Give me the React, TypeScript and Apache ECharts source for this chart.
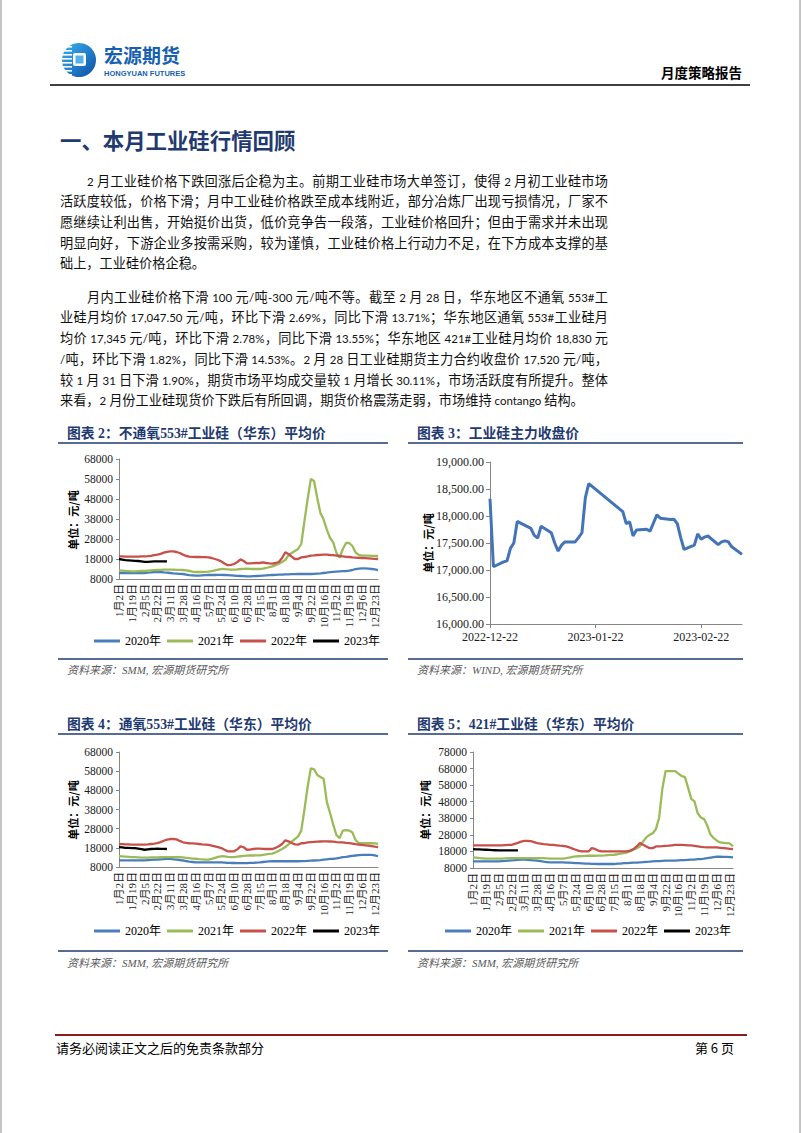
import React, { useEffect, useRef } from 'react';
import * as echarts from 'echarts';

// ---------------- data ----------------
const yearNames = ['2020年', '2021年', '2022年', '2023年'];
const yearColors = ['#4A7EBB', '#9BBB59', '#C8504B', '#000000'];

const dayTickLabels = [
  '1月2日', '1月19日', '2月5日', '2月22日', '3月11日', '3月28日', '4月16日', '5月7日', '5月24日', '6月10日',
  '6月28日', '7月15日', '8月1日', '8月18日', '9月4日', '9月22日', '10月16日', '11月2日', '11月19日', '12月6日', '12月23日',
];
const POINTS_PER_TICK = 4;

// 不通氧553#（华东）
const noOxy2020 = [
  11000, 11000, 10900, 10900, 10900, 11000, 11000, 11000, 11000, 11200, 11300, 11500,
  11500, 11500, 11300, 11200, 11000, 10800, 10700, 10600, 10500, 10200, 9900, 9800,
  9700, 9700, 9800, 9900, 10000, 10000, 10000, 10100, 10100, 10000, 9900, 9800,
  9700, 9600, 9500, 9400, 9300, 9300, 9400, 9500, 9600, 9700, 9800, 9900,
  10000, 10100, 10200, 10200, 10300, 10300, 10400, 10400, 10500, 10500, 10500, 10500,
  10500, 10600, 10700, 10800, 11000, 11200, 11400, 11600, 11700, 11800, 11900, 12000,
  12200, 12500, 12900, 13200, 13300, 13300, 13200, 13000, 12800, 12400,
];
const noOxy2021 = [
  12300, 12200, 12000, 11900, 11800, 11800, 11900, 12000, 12000, 12200, 12300, 12400,
  12500, 12600, 12700, 12700, 12700, 12700, 12600, 12600, 12500, 12300, 12000, 11700,
  11500, 11500, 11500, 11600, 11700, 11900, 12300, 12700, 13000, 12900, 12800, 12700,
  12700, 12800, 13000, 13100, 13200, 13100, 13000, 13000, 13000, 13200, 13500, 13900,
  14300, 14900, 15600, 16500, 17500, 19800, 21000, 22000, 23000, 25500, 37000, 48000,
  58000, 57000, 48500, 41000, 37700, 32700, 28500, 26300, 21000, 18700, 23000, 26000,
  26000, 24500, 21200, 20000, 19700, 19700, 19700, 19600, 19600, 19500,
];
const noOxy2022 = [
  19300, 19300, 19200, 19200, 19200, 19200, 19200, 19300, 19300, 19400, 19600, 19900,
  20200, 20600, 21200, 21600, 21800, 21800, 21500, 21000, 20200, 19500, 19200, 19100,
  19000, 19000, 18900, 18900, 18800, 18500, 18000, 17500, 16800, 15800, 14900, 15100,
  15500, 16500, 17800, 17000, 15800, 15800, 15900, 16000, 16000, 16300, 16000, 15800,
  15700, 16000, 16500, 18500, 21300, 20500, 19200, 18000, 18000, 18800, 19000, 19300,
  19700, 19800, 20000, 20100, 20200, 20200, 20000, 19900, 19700, 19500, 19300, 19100,
  19000, 18800, 18700, 18600, 18500, 18400, 18300, 18200, 18100, 18000,
];
const noOxy2023 = [18000, 17700, 17400, 17300, 17200, 17100, 17000, 16800, 16600, 16600, 16700, 16800, 16800, 16800, 16800, 16800];

// 通氧553#（华东）
const oxy2020 = [
  11500, 11500, 11500, 11500, 11500, 11500, 11500, 11500, 11500, 11600, 11700, 11800,
  11900, 12000, 12100, 12200, 12200, 12000, 11800, 11600, 11400, 11100, 10800, 10600,
  10400, 10400, 10400, 10400, 10400, 10400, 10400, 10400, 10400, 10300, 10200, 10100,
  10100, 10000, 10000, 10000, 10000, 10100, 10200, 10300, 10400, 10600, 10800, 10900,
  11000, 11000, 11000, 11000, 11000, 11000, 11000, 11000, 11000, 11100, 11100, 11200,
  11300, 11400, 11500, 11600, 11800, 12000, 12200, 12300, 12500, 12800, 13100, 13300,
  13600, 13800, 14000, 14200, 14300, 14300, 14300, 14300, 14100, 13600,
];
const oxy2021 = [
  13600, 13500, 13400, 13300, 13200, 13100, 13000, 12900, 12900, 12900, 13000, 13000,
  13000, 13100, 13100, 13200, 13200, 13200, 13100, 13100, 13000, 12800, 12600, 12400,
  12300, 12100, 12000, 11900, 11800, 12200, 12800, 13300, 13600, 13500, 13300, 13200,
  13200, 13400, 13600, 13800, 13900, 14000, 14000, 14100, 14100, 14300, 14600, 14800,
  15000, 15700, 16500, 17400, 18400, 19800, 21200, 22600, 24000, 27000, 38000, 50000,
  59500, 59000, 56000, 55000, 54000, 42000, 36200, 30100, 24600, 23100, 27000, 27200,
  27000, 26000, 22000, 20500, 20500, 20500, 20400, 20400, 20300, 20100,
];
const oxy2022 = [
  20000, 19900, 19800, 19800, 19700, 19700, 19700, 19700, 19700, 19800, 20000, 20200,
  20500, 21000, 21700, 22300, 22600, 22600, 22400, 21600, 20900, 20600, 20400, 20300,
  20200, 20000, 19800, 19700, 19500, 19200, 18800, 18400, 17900, 17000, 16200, 16200,
  16200, 17200, 18800, 18300, 17000, 17100, 17400, 17600, 17600, 17500, 17400, 17400,
  17400, 18000, 18800, 20000, 21900, 21400, 20500, 19800, 19700, 20400, 20500, 20800,
  21000, 21100, 21200, 21300, 21400, 21400, 21300, 21200, 21000, 20900, 20800, 20600,
  20500, 20200, 19900, 19700, 19500, 19300, 19100, 18900, 18600, 18400,
];
const oxy2023 = [18400, 18200, 18000, 18000, 17900, 17800, 17600, 17300, 17000, 17200, 17400, 17500, 17600, 17500, 17500, 17400];

// 421#（华东）
const si421_2020 = [
  12000, 12000, 12000, 12000, 12000, 12000, 12000, 12000, 12000, 12200, 12300, 12500,
  12600, 12700, 12900, 13000, 13000, 12900, 12800, 12600, 12400, 12100, 11800, 11600,
  11400, 11400, 11400, 11400, 11400, 11300, 11200, 11100, 11000, 10900, 10800, 10700,
  10600, 10500, 10500, 10400, 10400, 10400, 10400, 10400, 10400, 10600, 10700, 10900,
  11000, 11100, 11200, 11300, 11400, 11500, 11700, 11800, 12000, 12100, 12200, 12300,
  12400, 12400, 12500, 12500, 12600, 12700, 12800, 12900, 13000, 13100, 13300, 13400,
  13600, 13900, 14200, 14500, 14800, 14800, 14700, 14700, 14600, 14400,
];
const si421_2021 = [
  14400, 14200, 14000, 13800, 13600, 13600, 13600, 13700, 13600, 13700, 13800, 13900,
  13900, 14000, 14000, 14000, 14000, 14000, 14000, 14000, 14000, 14000, 13900, 13800,
  13600, 13600, 13600, 13600, 13600, 13900, 14300, 14700, 15000, 15100, 15200, 15300,
  15400, 15400, 15400, 15500, 15500, 15600, 15800, 15900, 16000, 16300, 16700, 17000,
  17400, 18200, 19000, 20000, 21000, 24000, 26500, 28000, 29000, 31500, 38500, 56000,
  66500, 66500, 66500, 66500, 65000, 63500, 63000, 56500, 49700, 48200, 41000, 38500,
  37500, 33500, 28200, 26000, 24500, 23400, 23200, 23000, 22800, 21000,
];
const si421_2022 = [
  21600, 21600, 21600, 21600, 21600, 21600, 21600, 21600, 21600, 21700, 21800, 21900,
  22000, 22600, 23200, 23900, 24400, 24400, 24200, 23600, 23000, 22700, 22400, 22200,
  22000, 21900, 21700, 21500, 21400, 21100, 20500, 19700, 19000, 18300, 18000, 18000,
  18000, 20000, 19500, 18500, 18000, 18000, 18000, 18000, 18000, 18000, 18000, 18000,
  18000, 18500, 19400, 21000, 23000, 22000, 21000, 20000, 20000, 21000, 21100, 21200,
  21400, 21500, 21700, 21900, 22000, 21900, 21800, 21700, 21600, 21400, 21100, 20800,
  20600, 20500, 20500, 20400, 20400, 20200, 20000, 19800, 19600, 19400,
];
const si421_2023 = [19400, 19300, 19200, 19100, 19000, 18900, 18800, 18700, 18600, 18600, 18600, 18600, 18600, 18600, 18600];

const yTicks68k = [8000, 18000, 28000, 38000, 48000, 58000, 68000];
const yTicks78k = [8000, 18000, 28000, 38000, 48000, 58000, 68000, 78000];

// 工业硅主力收盘价
const futDates = [
  '2022-12-22', '2022-12-23', '2022-12-26', '2022-12-27', '2022-12-28', '2022-12-29', '2022-12-30',
  '2023-01-03', '2023-01-04', '2023-01-05', '2023-01-06', '2023-01-09', '2023-01-10', '2023-01-11',
  '2023-01-12', '2023-01-13', '2023-01-16', '2023-01-17', '2023-01-18', '2023-01-19', '2023-01-20',
  '2023-01-30', '2023-01-31', '2023-02-01', '2023-02-02', '2023-02-03', '2023-02-06', '2023-02-07',
  '2023-02-08', '2023-02-09', '2023-02-10', '2023-02-13', '2023-02-14', '2023-02-15', '2023-02-16',
  '2023-02-17', '2023-02-20', '2023-02-21', '2023-02-22', '2023-02-23', '2023-02-24', '2023-02-27',
  '2023-02-28', '2023-03-01', '2023-03-02', '2023-03-03', '2023-03-06',
];
const futClose = [
  18320, 17060, 17150, 17170, 17400, 17500, 17900,
  17770, 17640, 17590, 17810, 17690, 17500, 17350,
  17460, 17520, 17520, 17600, 17690, 18340, 18600,
  18080, 17860, 17890, 17630, 17740, 17755, 17720,
  17870, 18020, 17960, 17935, 17940, 17860, 17600,
  17380, 17460, 17670, 17570, 17610, 17630, 17470,
  17520, 17540, 17520, 17430, 17290,
];
const futXTickDates = ['2022-12-22', '2023-01-22', '2023-02-22'];

// texts
const chartTitles = [
  '图表 2：不通氧553#工业硅（华东）平均价',
  '图表 3：工业硅主力收盘价',
  '图表 4：通氧553#工业硅（华东）平均价',
  '图表 5：421#工业硅（华东）平均价',
];
const chartSources = [
  '资料来源：SMM, 宏源期货研究所',
  '资料来源：WIND, 宏源期货研究所',
  '资料来源：SMM, 宏源期货研究所',
  '资料来源：SMM, 宏源期货研究所',
];
const unitLabel = '单位：元/吨';
const sectionTitle = '一、本月工业硅行情回顾';
const para1 = [
  '2 月工业硅价格下跌回涨后企稳为主。前期工业硅市场大单签订，使得 2 月初工业硅市场',
  '活跃度较低，价格下滑；月中工业硅价格跌至成本线附近，部分冶炼厂出现亏损情况，厂家不',
  '愿继续让利出售，开始挺价出货，低价竞争告一段落，工业硅价格回升；但由于需求并未出现',
  '明显向好，下游企业多按需采购，较为谨慎，工业硅价格上行动力不足，在下方成本支撑的基',
  '础上，工业硅价格企稳。',
];
const para2 = [
  '月内工业硅价格下滑 100 元/吨-300 元/吨不等。截至 2 月 28 日，华东地区不通氧 553#工',
  '业硅月均价 17,047.50 元/吨，环比下滑 2.69%，同比下滑 13.71%；华东地区通氧 553#工业硅月',
  '均价 17,345 元/吨，环比下滑 2.78%，同比下滑 13.55%；华东地区 421#工业硅月均价 18,830 元',
  '/吨，环比下滑 1.82%，同比下滑 14.53%。2 月 28 日工业硅期货主力合约收盘价 17,520 元/吨，',
  '较 1 月 31 日下滑 1.90%，期货市场平均成交量较 1 月增长 30.11%，市场活跃度有所提升。整体',
  '来看，2 月份工业硅现货价下跌后有所回调，期货价格震荡走弱，市场维持 contango 结构。',
];

// ---------------- helpers ----------------
const SERIF = '"Liberation Serif", "Noto Sans CJK SC", serif';
const CJK = '"Noto Sans CJK SC", sans-serif';
const NAVY = '#1F3A70';
const AXIS = '#868686';
const DAY = 86400000;

const dayCategories: string[] = [];
dayTickLabels.forEach((t, k) => {
  dayCategories.push(t);
  const fill = k < dayTickLabels.length - 1 ? POINTS_PER_TICK - 1 : 1;
  for (let j = 0; j < fill; j++) dayCategories.push('');
});

const futBase = Date.parse(futDates[0]);
const toOffset = (d: string) => Math.round((Date.parse(d) - futBase) / DAY);
const futSeriesData = futDates.map((d, i) => [toOffset(d), futClose[i]]);
const fmtDate = (v: number) => new Date(futBase + v * DAY).toISOString().slice(0, 10);

function catXAxis(gridIndex: number) {
  return {
    type: 'category', gridIndex, data: dayCategories, boundaryGap: false,
    axisLine: { show: true, lineStyle: { color: AXIS, width: 1 } },
    axisTick: { show: false },
    axisLabel: { interval: POINTS_PER_TICK - 1, rotate: 90, margin: 5, fontSize: 11, fontFamily: SERIF, color: '#1a1a1a' },
    splitLine: { show: false },
  };
}
function valYAxis(gridIndex: number, min: number, max: number, ticks: number[]) {
  return {
    type: 'value', gridIndex, min, max,
    axisLine: { show: true, lineStyle: { color: AXIS, width: 1 } },
    axisTick: { show: true, length: 3, customValues: ticks, lineStyle: { color: AXIS } },
    axisLabel: {
      customValues: ticks, margin: 6, fontSize: 11.5, fontFamily: SERIF, color: '#1a1a1a',
      formatter: (v: number) => String(v),
    },
    splitLine: { show: false },
  };
}
function yearSeries(idx: number, arrays: number[][]) {
  return arrays.map((d, i) => ({
    type: 'line', name: yearNames[i], xAxisIndex: idx, yAxisIndex: idx, data: d,
    showSymbol: false, symbol: 'none', color: yearColors[i],
    lineStyle: { width: 2.3, color: yearColors[i] }, silent: true,
  }));
}
function legendAt(left: number, top: number) {
  return {
    data: yearNames, left, top, orient: 'horizontal', icon: 'rect', padding: 0,
    itemWidth: 26, itemHeight: 3, itemGap: 6, selectedMode: false,
    textStyle: { fontSize: 12, fontFamily: SERIF, color: '#000' },
  };
}
function txt(x: number, y: number, text: string, s: any = {}, extra: any = {}) {
  return {
    type: 'text', x, y, ...extra,
    style: { text, fontFamily: CJK, fontSize: 13, fill: '#000', align: 'left', verticalAlign: 'middle', ...s },
  };
}
function hline(x1: number, x2: number, y: number, stroke: string, lineWidth: number) {
  return { type: 'line', shape: { x1, y1: y, x2, y2: y }, style: { stroke, lineWidth } };
}

const panels = [
  { titleX: 67, ruleX1: 58, ruleX2: 388, titleY: 433, ruleY: 443, bottomY: 659, srcY: 670, unitX: 73, unitY: 520 },
  { titleX: 417, ruleX1: 408, ruleX2: 743, titleY: 433, ruleY: 443, bottomY: 659, srcY: 670, unitX: 428, unitY: 543 },
  { titleX: 67, ruleX1: 58, ruleX2: 388, titleY: 724, ruleY: 734, bottomY: 951, srcY: 963, unitX: 73, unitY: 810 },
  { titleX: 417, ruleX1: 408, ruleX2: 743, titleY: 724, ruleY: 734, bottomY: 951, srcY: 963, unitX: 425, unitY: 810 },
];

function buildOption() {
  const graphic: any[] = [
    { type: 'line', shape: { x1: 1, y1: 0, x2: 1, y2: 1133 }, style: { stroke: '#8c8c8c', lineWidth: 1 } },
    { type: 'line', shape: { x1: 800, y1: 0, x2: 800, y2: 1133 }, style: { stroke: '#8c8c8c', lineWidth: 1 } },
    // logo
    {
      type: 'circle', shape: { cx: 79, cy: 60, r: 17 },
      style: { fill: new echarts.graphic.LinearGradient(0, 0, 1, 1, [{ offset: 0, color: '#3DB2F2' }, { offset: 1, color: '#0A4FA3' }]) },
    },
    ...[46, 50, 54, 58, 62, 66, 70, 74].map((y) => ({ type: 'rect', shape: { x: 58, y, width: 14, height: 1.6 }, style: { fill: '#fff' } })),
    { type: 'rect', shape: { x: 73, y: 53, width: 13, height: 13, r: 2 }, style: { fill: '#fff' } },
    { type: 'rect', shape: { x: 75.5, y: 55.5, width: 8, height: 8 }, style: { fill: '#56B0EA' } },
    txt(104, 54.5, '宏源期货', { fontSize: 19, lineHeight: 19, fontWeight: 'bold', fill: '#1760B0' }),
    txt(104, 73.5, 'HONGYUAN FUTURES', { fontSize: 7.5, lineHeight: 8, fontWeight: 'bold', fill: '#1760B0', fontFamily: '"Liberation Sans", sans-serif' }),
    txt(742, 71.5, '月度策略报告', { fontSize: 13.5, fontWeight: 600, align: 'right' }),
    hline(50, 750, 85, '#000', 1.6),
    txt(60, 139, sectionTitle, { fontSize: 21.4, fontWeight: 'bold', fill: NAVY }),
    // footer
    hline(55, 747, 1035, '#8B1C1C', 2),
    txt(56, 1047, '请务必阅读正文之后的免责条款部分', { fontSize: 13 }),
    txt(734, 1047, '第 6 页', { fontSize: 13, align: 'right' }),
  ];
  panels.forEach((p, i) => {
    graphic.push(txt(p.titleX, p.titleY, chartTitles[i], { fontSize: 13.8, fontWeight: 'bold', fill: NAVY, fontFamily: SERIF }));
    graphic.push(hline(p.ruleX1, p.ruleX2, p.ruleY, NAVY, 1.5));
    graphic.push(hline(p.ruleX1, p.ruleX2, p.bottomY, NAVY, 1.5));
    graphic.push(txt(p.titleX, p.srcY, chartSources[i], { fontSize: 11, fontStyle: 'italic', fill: '#595959', fontFamily: SERIF }));
    graphic.push(txt(p.unitX, p.unitY, unitLabel, { fontSize: 11, fontWeight: 'bold', align: 'center' }, { rotation: Math.PI / 2 }));
  });

  const gridBase = { containLabel: false, outerBoundsMode: 'none', show: false };
  return {
    animation: false,
    textStyle: { fontFamily: SERIF },
    grid: [
      { ...gridBase, left: 119, top: 459, width: 259, height: 120 },
      { ...gridBase, left: 490, top: 462, width: 252, height: 162 },
      { ...gridBase, left: 119, top: 752, width: 259, height: 115 },
      { ...gridBase, left: 473, top: 752, width: 260, height: 116 },
    ],
    xAxis: [
      catXAxis(0),
      {
        type: 'value', gridIndex: 1, min: 0, max: toOffset(futDates[futDates.length - 1]),
        axisLine: { show: true, lineStyle: { color: AXIS, width: 1 } },
        axisTick: { show: true, length: 4, customValues: futXTickDates.map(toOffset), lineStyle: { color: AXIS } },
        axisLabel: { customValues: futXTickDates.map(toOffset), formatter: fmtDate, margin: 7, fontSize: 12, fontFamily: SERIF, color: '#1a1a1a' },
        splitLine: { show: false },
      },
      catXAxis(2),
      catXAxis(3),
    ],
    yAxis: [
      valYAxis(0, 8000, 68000, yTicks68k),
      {
        type: 'value', gridIndex: 1, min: 16000, max: 19000, interval: 500,
        axisLine: { show: true, lineStyle: { color: AXIS, width: 1 } },
        axisTick: { show: true, length: 4, lineStyle: { color: AXIS } },
        axisLabel: {
          margin: 6, fontSize: 12, fontFamily: SERIF, color: '#1a1a1a',
          formatter: (v: number) => v.toLocaleString('en-US', { minimumFractionDigits: 2, maximumFractionDigits: 2 }),
        },
        splitLine: { show: false },
      },
      valYAxis(2, 8000, 68000, yTicks68k),
      valYAxis(3, 8000, 78000, yTicks78k),
    ],
    legend: [legendAt(94, 635), legendAt(94, 925), legendAt(445, 925)],
    series: [
      ...yearSeries(0, [noOxy2020, noOxy2021, noOxy2022, noOxy2023]),
      {
        type: 'line', name: '收盘价', xAxisIndex: 1, yAxisIndex: 1, data: futSeriesData,
        showSymbol: false, symbol: 'none', color: '#4374B8', lineStyle: { width: 3, color: '#4374B8' }, silent: true,
      },
      ...yearSeries(2, [oxy2020, oxy2021, oxy2022, oxy2023]),
      ...yearSeries(3, [si421_2020, si421_2021, si421_2022, si421_2023]),
    ],
    graphic,
  };
}

// ---------------- page text ----------------
function Mixed({ text }: { text: string }) {
  const parts = text.split(/([\x20-\x7E]+)/).filter((p) => p.length > 0);
  return (
    <>
      {parts.map((p, i) =>
        /^[\x20-\x7E]+$/.test(p) ? (
          <span key={i} style={{ fontFamily: 'Lato, "Noto Sans", sans-serif', fontSize: '0.87em' }}>{p}</span>
        ) : (
          <span key={i}>{p}</span>
        ),
      )}
    </>
  );
}

const TEXT_LEFT = 60;
const TEXT_RIGHT = 608;
const INDENT = 27;
const LINE_H = 20.7;

function Paragraph({ lines, firstCenter }: { lines: string[]; firstCenter: number }) {
  return (
    <>
      {lines.map((line, i) => {
        const left = TEXT_LEFT + (i === 0 ? INDENT : 0);
        const last = i === lines.length - 1;
        return (
          <div
            key={i}
            style={{
              position: 'absolute', left, top: firstCenter + i * LINE_H - 10, width: TEXT_RIGHT - left, height: 20,
              lineHeight: '20px', fontSize: 13.2, fontFamily: CJK, color: '#111',
              textAlign: last ? 'left' : 'justify', textAlignLast: last ? 'left' : 'justify',
            } as React.CSSProperties}
          >
            <Mixed text={line} />
          </div>
        );
      })}
    </>
  );
}

export default function App() {
  const ref = useRef<HTMLDivElement>(null);
  useEffect(() => {
    const chart = echarts.init(ref.current!, null, { renderer: 'svg' });
    chart.setOption(buildOption() as any);
    return () => chart.dispose();
  }, []);
  return (
    <div lang="zh-CN" style={{ position: 'absolute', left: 0, top: 0, width: 802, height: 1133, background: '#fff', overflow: 'hidden' }}>
      <Paragraph lines={para1} firstCenter={180.5} />
      <Paragraph lines={para2} firstCenter={296.7} />
      <div ref={ref} style={{ position: 'absolute', left: 0, top: 0, width: 802, height: 1133 }} />
    </div>
  );
}
